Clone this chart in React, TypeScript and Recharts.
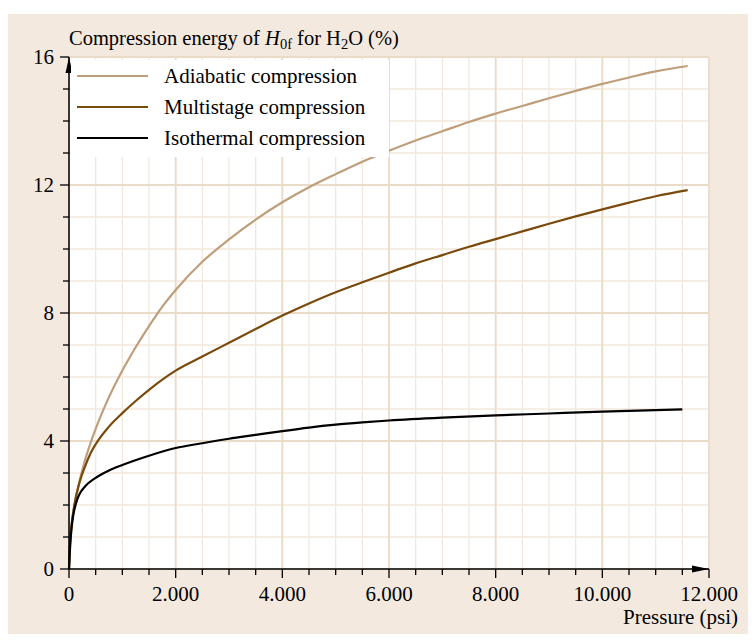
import { LineChart, Line, XAxis, YAxis, CartesianGrid, ReferenceDot, Label } from "recharts";

// psi vs % of H0f
const adiabatic: [number, number][] = [
  [0, 0], [25, 0.98], [50, 1.39], [100, 1.96], [200, 2.77], [300, 3.4], [400, 3.92], [500, 4.38],
  [750, 5.37], [1000, 6.2], [1250, 6.93], [1500, 7.59], [1750, 8.2], [2000, 8.72], [2500, 9.6],
  [3000, 10.3], [3500, 10.92], [4000, 11.46], [4500, 11.93], [5000, 12.34], [5500, 12.73],
  [6000, 13.07], [6500, 13.39], [7000, 13.68], [7500, 13.97], [8000, 14.23], [8500, 14.47],
  [9000, 14.71], [9500, 14.94], [10000, 15.16], [10500, 15.36], [11000, 15.55], [11600, 15.72],
];
const multistage: [number, number][] = [
  [0, 0], [25, 1.0], [50, 1.42], [100, 2.0], [200, 2.72], [300, 3.2], [400, 3.6], [500, 3.9],
  [750, 4.45], [1000, 4.87], [1250, 5.25], [1500, 5.6], [1750, 5.92], [2000, 6.2], [2500, 6.64],
  [3000, 7.07], [3500, 7.5], [4000, 7.92], [4500, 8.3], [5000, 8.65], [5500, 8.96], [6000, 9.26],
  [6500, 9.55], [7000, 9.81], [7500, 10.07], [8000, 10.31], [8500, 10.55], [9000, 10.79],
  [9500, 11.02], [10000, 11.24], [10500, 11.45], [11000, 11.65], [11600, 11.84],
];
const isothermal: [number, number][] = [
  [0, 0], [25, 0.8], [50, 1.3], [75, 1.63], [100, 1.85], [150, 2.15], [200, 2.35], [300, 2.58],
  [500, 2.85], [750, 3.08], [1000, 3.25], [1500, 3.54], [2000, 3.78], [2500, 3.93], [3000, 4.07],
  [3500, 4.19], [4000, 4.31], [4500, 4.42], [5000, 4.51], [5500, 4.58], [6000, 4.64], [7000, 4.73],
  [8000, 4.8], [9000, 4.86], [10000, 4.92], [11500, 4.99],
];

const seriesNames = ["Adiabatic compression", "Multistage compression", "Isothermal compression"];
const seriesColors = ["#bf9e7b", "#7a4a0c", "#000000"];

const xTicks = [0, 500, 1000, 1500, 2000, 2500, 3000, 3500, 4000, 4500, 5000, 5500, 6000,
  6500, 7000, 7500, 8000, 8500, 9000, 9500, 10000, 10500, 11000, 11500, 12000];
const xMajor = [0, 2000, 4000, 6000, 8000, 10000, 12000];
const yTicks = [0, 1, 2, 3, 4, 5, 6, 7, 8, 9, 10, 11, 12, 13, 14, 15, 16];
const yMajor = [0, 4, 8, 12, 16];

const FONT = "'Liberation Serif', 'Times New Roman', serif";
const FS = 21;
const toRows = (pts: [number, number][]) => pts.map(([p, v]) => ({ p, v }));
const fmt = (v: number) => (v >= 1000 ? `${Math.floor(v / 1000)}.${String(v % 1000).padStart(3, "0")}` : String(v));

function XTick({ x, y, payload }: any) {
  const major = xMajor.includes(payload.value);
  return (
    <g>
      <line x1={x} x2={x} y1={y} y2={y + (major ? 9 : 6)} stroke="#000" strokeWidth={1.3} />
      {major && (
        <text x={x} y={y + 32} textAnchor="middle" fontSize={FS} fontFamily={FONT} fill="#000">
          {fmt(payload.value)}
        </text>
      )}
    </g>
  );
}

function YTick({ x, y, payload }: any) {
  const major = yMajor.includes(payload.value);
  return (
    <g>
      <line x1={x - (major ? 9 : 6)} x2={x} y1={y} y2={y} stroke="#000" strokeWidth={1.3} />
      {major && (
        <text x={x - 15} y={y + 7} textAnchor="end" fontSize={FS} fontFamily={FONT} fill="#000">
          {payload.value}
        </text>
      )}
    </g>
  );
}

export default function App() {
  const data = [adiabatic, multistage, isothermal].map(toRows);
  return (
    <div style={{ position: "relative", top: 6, width: 748, height: 626, background: "#f3e9df" }}>
      <LineChart width={748} height={626} margin={{ top: 43, right: 47, left: 31, bottom: 41 }}>
        <CartesianGrid
          fill="#ffffff"
          fillOpacity={1}
          stroke="#f3e8dc"
          strokeWidth={1.3}
          verticalValues={xTicks}
          horizontalValues={yTicks}
        />
        <CartesianGrid
          stroke="#eadbc9"
          strokeWidth={1.8}
          verticalValues={xMajor}
          horizontalValues={yMajor}
        />
        <XAxis
          type="number"
          dataKey="p"
          domain={[0, 12000]}
          ticks={xTicks}
          interval={0}
          height={30}
          tickSize={0}
          tickMargin={0}
          tickLine={false}
          tick={<XTick />}
          axisLine={{ stroke: "#000", strokeWidth: 1.5 }}
        >
          <Label
            content={({ viewBox }: any) => (
              <text
                x={viewBox.x + viewBox.width + 29}
                y={viewBox.y + 55}
                textAnchor="end"
                fontSize={FS}
                fontFamily={FONT}
                fill="#000"
              >
                Pressure (psi)
              </text>
            )}
          />
        </XAxis>
        <YAxis
          type="number"
          domain={[0, 16]}
          ticks={yTicks}
          interval={0}
          width={30}
          tickSize={0}
          tickMargin={0}
          tickLine={false}
          tick={<YTick />}
          axisLine={{ stroke: "#000", strokeWidth: 1.5 }}
        >
          <Label
            content={({ viewBox }: any) => (
              <text x={viewBox.x + viewBox.width} y={viewBox.y - 12} fontSize={20.5} fontFamily={FONT} fill="#000">
                Compression energy of <tspan fontStyle="italic">H</tspan>
                <tspan fontSize={14.5} dy={4}>0f</tspan>
                <tspan dy={-4}> for H</tspan>
                <tspan fontSize={14.5} dy={4}>2</tspan>
                <tspan dy={-4}>O (%)</tspan>
              </text>
            )}
          />
        </YAxis>
        {data.map((rows, i) => (
          <Line
            key={seriesNames[i]}
            data={rows}
            dataKey="v"
            name={seriesNames[i]}
            type="monotone"
            stroke={seriesColors[i]}
            strokeWidth={2.2}
            dot={false}
            activeDot={false}
            isAnimationActive={false}
          />
        ))}
        <ReferenceDot
          x={0}
          y={16}
          shape={({ cx, cy }: any) => <path d={`M${cx} ${cy} L${cx - 3.5} ${cy + 16} L${cx + 3.5} ${cy + 16} Z`} fill="#000" />}
        />
        <ReferenceDot
          x={12000}
          y={0}
          shape={({ cx, cy }: any) => <path d={`M${cx} ${cy} L${cx - 17} ${cy - 3.5} L${cx - 17} ${cy + 3.5} Z`} fill="#000" />}
        />
      </LineChart>
      <div
        style={{
          position: "absolute",
          left: 63,
          top: 46,
          width: 318,
          height: 97,
          background: "#ffffff",
          fontFamily: FONT,
          fontSize: FS,
        }}
      >
        {seriesNames.map((name, i) => (
          <div
            key={name}
            style={{ position: "absolute", left: 6, top: 16 + i * 31 - 15, height: 30, display: "flex", alignItems: "center", whiteSpace: "nowrap" }}
          >
            <div style={{ width: 71, height: 0, borderTop: `2.2px solid ${seriesColors[i]}` }} />
            <span style={{ marginLeft: 16, color: "#000" }}>{name}</span>
          </div>
        ))}
      </div>
    </div>
  );
}
